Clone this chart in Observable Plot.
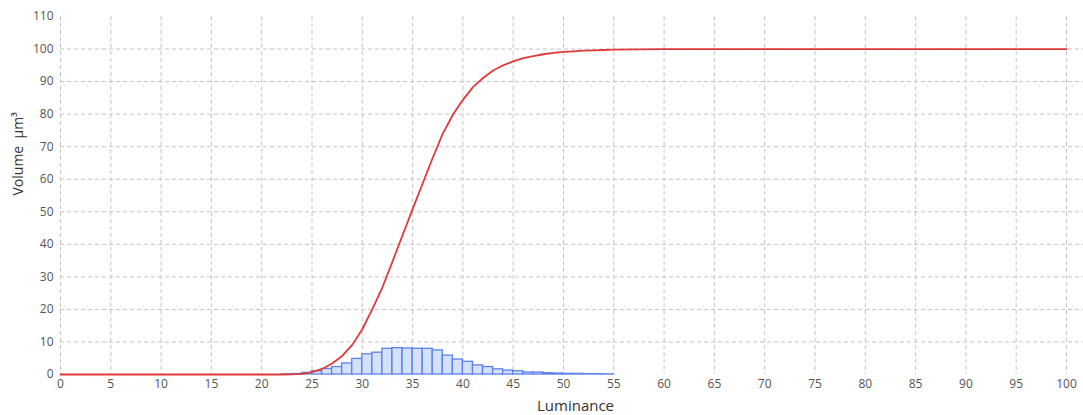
<!DOCTYPE html>
<html>
<head>
<meta charset="utf-8">
<script src="https://cdn.jsdelivr.net/npm/d3@7"></script>
<script src="https://cdn.jsdelivr.net/npm/@observablehq/plot@0.6"></script>
<style>
  html, body { margin: 0; padding: 0; background: #fff; }
  #chart svg { display: block; font-family: "Open Sans", "Noto Sans", sans-serif; }
</style>
</head>
<body>
<div id="chart"></div>
<script>
// Histogram bins (left edge of 1-unit-wide bin) and volume values
const binStart = [22, 23, 24, 25, 26, 27, 28, 29, 30, 31, 32, 33, 34, 35, 36, 37, 38, 39, 40, 41, 42, 43, 44, 45, 46, 47, 48, 49, 50, 51, 52, 53, 54];
const binValue = [0.05, 0.15, 0.5, 1.0, 1.7, 2.3, 3.4, 4.8, 6.2, 6.7, 7.9, 8.1, 8.0, 7.9, 7.9, 7.4, 5.8, 4.6, 3.9, 2.8, 2.3, 1.6, 1.2, 1.0, 0.6, 0.6, 0.4, 0.3, 0.2, 0.2, 0.1, 0.1, 0.05];

// Cumulative curve
const cumX = [0, 21, 22, 23, 24, 25, 26, 27, 28, 29, 30, 31, 32, 33, 34, 35, 36, 37, 38, 39, 40, 41, 42, 43, 44, 45, 46, 47, 48, 49, 50, 51, 52, 53, 54, 55, 60, 100];
const cumY = [0, 0, 0, 0.05, 0.2, 0.7, 1.7, 3.4, 5.7, 9.1, 13.9, 20.1, 26.8, 34.7, 42.8, 50.8, 58.7, 66.6, 74.0, 79.8, 84.4, 88.3, 91.1, 93.4, 95.0, 96.2, 97.2, 97.8, 98.4, 98.8, 99.1, 99.3, 99.5, 99.6, 99.7, 99.8, 100, 100];

// Tick values
const xTicks = [0, 5, 10, 15, 20, 25, 30, 35, 40, 45, 50, 55, 60, 65, 70, 75, 80, 85, 90, 95, 100];
const yTicks = [0, 10, 20, 30, 40, 50, 60, 70, 80, 90, 100, 110];
const yGrid = [10, 20, 30, 40, 50, 60, 70, 80, 90, 100];

const xLabel = "Luminance";
const yLabel = "Volume  μm³";

const bins = binStart.map((x, i) => ({x1: x, x2: x + 1, v: binValue[i]}));
const curve = cumX.map((x, i) => ({x, y: cumY[i]}));

const gridStyle = {stroke: "#c4c4c4", strokeOpacity: 1, strokeDasharray: "4,3", strokeWidth: 1};

const chart = Plot.plot({
  width: 1083,
  height: 415,
  marginLeft: 60,
  marginRight: 17,
  marginTop: 16,
  marginBottom: 41,
  style: {fontFamily: "'Open Sans', 'Noto Sans', sans-serif", background: "#fff"},
  x: {domain: [0, 100]},
  y: {domain: [0, 110]},
  marks: [
    Plot.gridX(xTicks, gridStyle),
    Plot.gridY(yGrid, {...gridStyle, insetRight: -17}),
    Plot.rectY(bins, {x1: "x1", x2: "x2", y: "v", fill: "#d3e1fc", stroke: "#5d80ea", strokeWidth: 1.3}),
    Plot.line(curve, {x: "x", y: "y", stroke: "#e0393b", strokeWidth: 1.8}),
    Plot.axisX({ticks: xTicks, tickSize: 0, tickPadding: 5, fontSize: 12, fill: "#555", label: null}),
    Plot.axisY({ticks: yTicks, tickSize: 0, tickPadding: 7, fontSize: 12, fill: "#555", label: null}),
    Plot.text([xLabel], {frameAnchor: "bottom", dx: 12, dy: 36, fontSize: 15, fill: "#333"}),
    Plot.text([yLabel], {frameAnchor: "left", dx: -42, rotate: -90, fontSize: 14, fill: "#333"})
  ]
});
document.getElementById("chart").appendChild(chart);
</script>
</body>
</html>
